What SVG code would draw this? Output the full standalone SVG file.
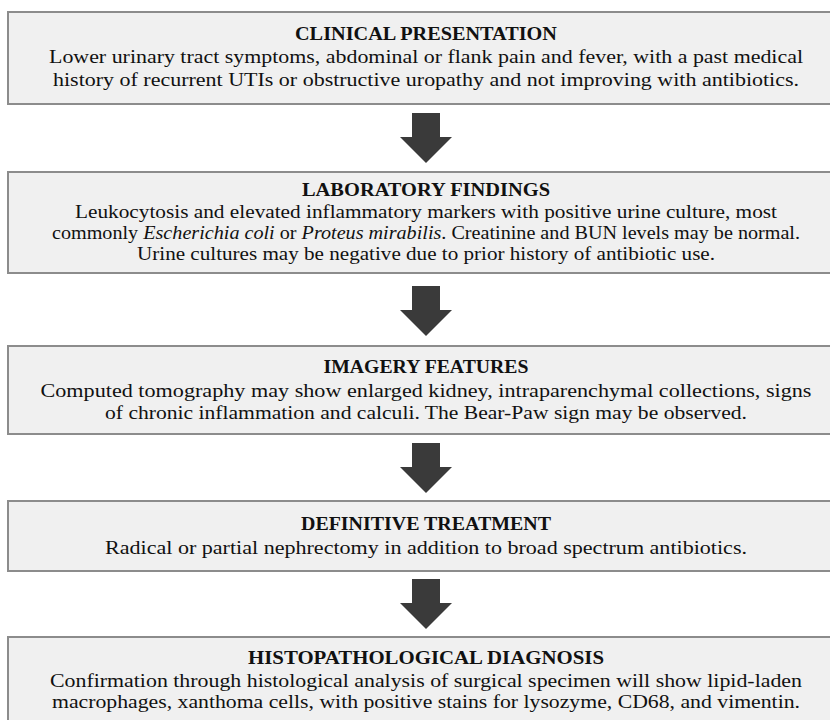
<svg xmlns="http://www.w3.org/2000/svg" xmlns:xlink="http://www.w3.org/1999/xlink" width="830" height="720" viewBox="0 0 830 720">
  <style>
    .box { fill: #f0f0f0; stroke: #8c8c8c; stroke-width: 2; }
    .title { font-family: "Liberation Serif", "Times New Roman", serif; font-size: 18.5px; font-weight: bold; fill: #111; text-anchor: middle; }
    .body { font-family: "Liberation Serif", "Times New Roman", serif; font-size: 19px; fill: #111; text-anchor: middle; }
    .arrow { fill: #3a3a3a; }
  </style>
  <defs>
    <path id="arrowShape" d="M-14,0 H14 V24 H26 L0,50 L-26,24 H-14 Z"/>
  </defs>
  <rect width="830" height="720" fill="#ffffff"/>

  <g id="node-clinical">
    <rect class="box" x="8" y="12" width="830" height="92"/>
    <text class="title" x="426" y="40" textLength="262" lengthAdjust="spacingAndGlyphs">CLINICAL PRESENTATION</text>
    <text class="body" x="426" y="63" textLength="754" lengthAdjust="spacingAndGlyphs">Lower urinary tract symptoms, abdominal or flank pain and fever, with a past medical</text>
    <text class="body" x="426" y="86" textLength="746" lengthAdjust="spacingAndGlyphs">history of recurrent UTIs or obstructive uropathy and not improving with antibiotics.</text>
  </g>

  <g id="node-laboratory">
    <rect class="box" x="8" y="172" width="830" height="101"/>
    <text class="title" x="426" y="196" textLength="248" lengthAdjust="spacingAndGlyphs">LABORATORY FINDINGS</text>
    <text class="body" x="426" y="218" textLength="702" lengthAdjust="spacingAndGlyphs">Leukocytosis and elevated inflammatory markers with positive urine culture, most</text>
    <text class="body" x="426" y="239" textLength="748" lengthAdjust="spacingAndGlyphs">commonly <tspan font-style="italic">Escherichia coli</tspan> or <tspan font-style="italic">Proteus mirabilis</tspan>. Creatinine and BUN levels may be normal.</text>
    <text class="body" x="426" y="260" textLength="578" lengthAdjust="spacingAndGlyphs">Urine cultures may be negative due to prior history of antibiotic use.</text>
  </g>

  <g id="node-imagery">
    <rect class="box" x="8" y="346" width="830" height="88"/>
    <text class="title" x="426" y="373" textLength="205" lengthAdjust="spacingAndGlyphs">IMAGERY FEATURES</text>
    <text class="body" x="426" y="397" textLength="771" lengthAdjust="spacingAndGlyphs">Computed tomography may show enlarged kidney, intraparenchymal collections, signs</text>
    <text class="body" x="426" y="419" textLength="642" lengthAdjust="spacingAndGlyphs">of chronic inflammation and calculi. The Bear-Paw sign may be observed.</text>
  </g>

  <g id="node-treatment">
    <rect class="box" x="8" y="501" width="830" height="70"/>
    <text class="title" x="426" y="530" textLength="250" lengthAdjust="spacingAndGlyphs">DEFINITIVE TREATMENT</text>
    <text class="body" x="426" y="554" textLength="642" lengthAdjust="spacingAndGlyphs">Radical or partial nephrectomy in addition to broad spectrum antibiotics.</text>
  </g>

  <g id="node-histopathology">
    <rect class="box" x="8" y="637" width="830" height="95"/>
    <text class="title" x="426" y="664" textLength="356" lengthAdjust="spacingAndGlyphs">HISTOPATHOLOGICAL DIAGNOSIS</text>
    <text class="body" x="426" y="687" textLength="752" lengthAdjust="spacingAndGlyphs">Confirmation through histological analysis of surgical specimen will show lipid-laden</text>
    <text class="body" x="426" y="708" textLength="748" lengthAdjust="spacingAndGlyphs">macrophages, xanthoma cells, with positive stains for lysozyme, CD68, and vimentin.</text>
  </g>

  <g id="connectors">
    <use class="arrow" xlink:href="#arrowShape" transform="translate(426,113)"/>
    <use class="arrow" xlink:href="#arrowShape" transform="translate(426,286)"/>
    <use class="arrow" xlink:href="#arrowShape" transform="translate(426,443)"/>
    <use class="arrow" xlink:href="#arrowShape" transform="translate(426,579)"/>
  </g>
</svg>
